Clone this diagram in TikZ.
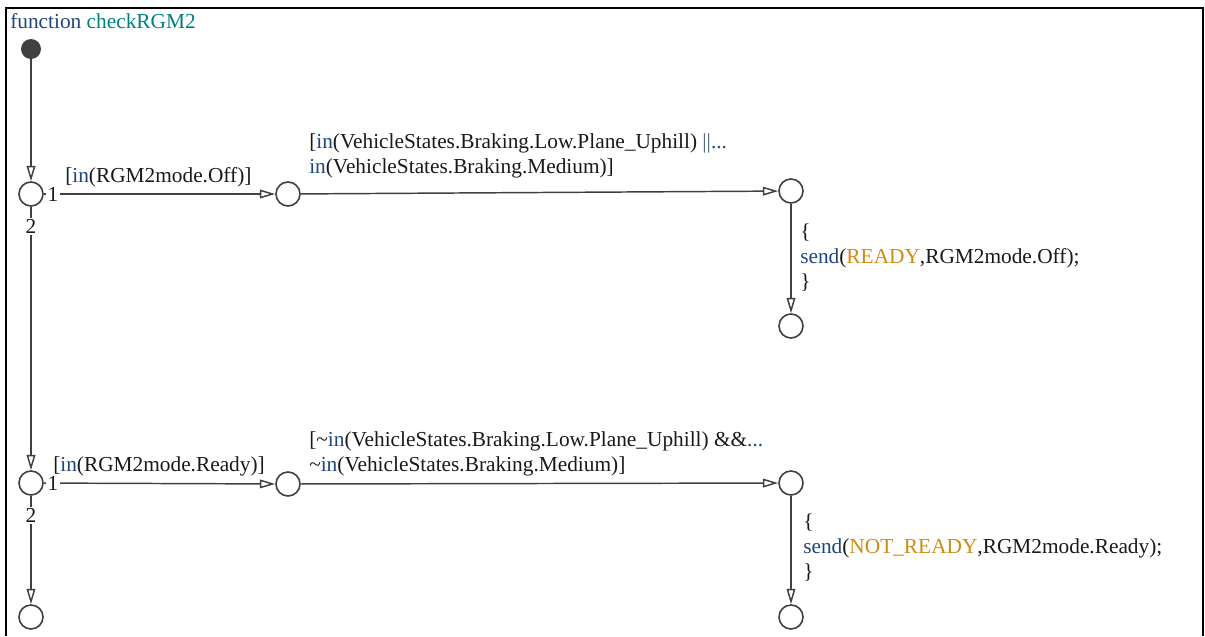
\documentclass[tikz,border=0pt]{standalone}
\usepackage{fontspec}
\setmainfont{Liberation Serif}
\usetikzlibrary{arrows.meta}
\definecolor{kw}{RGB}{30,70,125}
\definecolor{fn}{RGB}{0,128,128}
\definecolor{ev}{RGB}{205,140,20}
\definecolor{ln}{RGB}{64,64,64}
\definecolor{txt}{RGB}{25,25,25}
\begin{document}
\begin{tikzpicture}[x=0.75pt,y=-0.75pt,
  font=\fontsize{16}{18.75}\selectfont, text=txt,
  junc/.style={circle,draw=ln,line width=1.2pt,minimum size=18pt,inner sep=0},
  tr/.style={draw=ln,line width=1.1pt,-{Triangle[open,length=11.5pt,width=6.5pt]}},
  lbl/.style={inner sep=0,anchor=base west,align=left},
  num/.style={fill=white,inner sep=1pt}]
\useasboundingbox (0,0) rectangle (1205,636);
\draw[line width=1.5pt] (6,636) -- (6,8) -- (1203,8) -- (1203,636);
\node[lbl] (title) at (10,28) {\textcolor{kw}{function} \textcolor{fn}{checkRGM2}};
\node[circle,fill=ln,minimum size=15pt,inner sep=0] (init) at (31,49) {};
\node[junc] (a1) at (31,194) {};
\node[junc] (a2) at (288,194) {};
\node[junc] (a3) at (791,191) {};
\node[junc] (a4) at (791,326) {};
\node[junc] (b1) at (31,483) {};
\node[junc] (b2) at (288,484) {};
\node[junc] (b3) at (791,483) {};
\node[junc] (b4) at (791,617) {};
\node[junc] (b5) at (31,617) {};
\draw[tr] (init) -- (a1);
\draw[tr] (a1) -- node[num,pos=0.04]{1} (a2);
\draw[tr] (a1) -- node[num,pos=0.075]{2} (b1);
\draw[tr] (a2) -- (a3);
\draw[tr] (a3) -- (a4);
\draw[tr] (b1) -- node[num,pos=0.04]{1} (b2);
\draw[tr] (b1) -- node[num,pos=0.18]{2} (b5);
\draw[tr] (b2) -- (b3);
\draw[tr] (b3) -- (b4);
\node[lbl] (g1) at (65,182) {[\textcolor{kw}{in}(RGM2mode.Off)]};
\node[lbl] (g2) at (309,173) {[\textcolor{kw}{in}(VehicleStates.Braking.Low.Plane\_Uphill) \textcolor{kw!60!gray}{||}\textcolor{kw}{...}\\\textcolor{kw}{in}(VehicleStates.Braking.Medium)]};
\node[lbl] (act1) at (800,288) {\{\\\textcolor{kw}{send}(\textcolor{ev}{READY},RGM2mode.Off);\\\}};
\node[lbl] (g3) at (53,471) {[\textcolor{kw}{in}(RGM2mode.Ready)]};
\node[lbl] (g4) at (309,471) {[\textasciitilde\textcolor{kw}{in}(VehicleStates.Braking.Low.Plane\_Uphill) \&\&\textcolor{kw}{...}\\\textasciitilde\textcolor{kw}{in}(VehicleStates.Braking.Medium)]};
\node[lbl] (act2) at (803,578) {\{\\\textcolor{kw}{send}(\textcolor{ev}{NOT\_READY},RGM2mode.Ready);\\\}};
\end{tikzpicture}
\end{document}
